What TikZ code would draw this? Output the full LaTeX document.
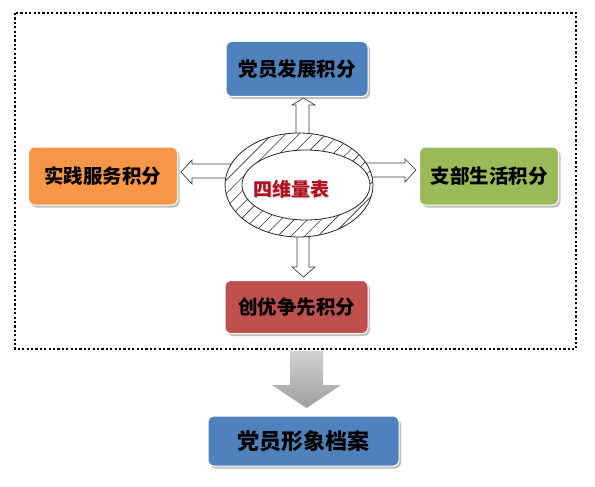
\documentclass[tikz,border=0pt]{standalone}
\usepackage{fontspec}
\newfontfamily\cjk{Noto Sans CJK SC}
\usetikzlibrary{shadows,patterns.meta,calc}
\definecolor{boxblue}{HTML}{4F81BD}
\definecolor{boxorange}{HTML}{F79646}
\definecolor{boxgreen}{HTML}{9BBB59}
\definecolor{boxred}{HTML}{C0504D}
\definecolor{centerred}{HTML}{B01020}
\tikzset{
  card/.style={rounded corners=6pt, draw=white, line width=1pt,
    drop shadow={shadow xshift=2pt, shadow yshift=-2.5pt, fill=black!35, opacity=0.7},
    font=\cjk\bfseries\fontsize{19.5}{22}\selectfont, text=black, inner sep=0pt},
  hollow/.style={draw=black!75, line width=0.7pt, fill=white, line join=miter},
  dotframe/.style={line width=2.2pt, dash pattern=on 2.2pt off 2.2pt}
}
\begin{document}
\begin{tikzpicture}[x=1pt,y=-1pt]
\useasboundingbox (0,0) rectangle (595,487);
\fill[white] (0,0) rectangle (595,487);
% frame
\draw[dotframe] (15,13) rectangle (576,349);
% boxes
\node[card, fill=boxblue, minimum width=142pt, minimum height=55pt] (top) at (297,69) {党员发展积分};
\node[card, fill=boxorange, minimum width=149pt, minimum height=58pt] (left) at (103,176) {实践服务积分};
\node[card, fill=boxgreen, minimum width=139pt, minimum height=58pt] (right) at (489,176) {支部生活积分};
\node[card, fill=boxred, minimum width=143pt, minimum height=53pt] (bottom) at (296.5,307) {创优争先积分};
\node[card, fill=boxblue, minimum width=191pt, minimum height=50pt, font=\cjk\bfseries\fontsize{22}{24}\selectfont] (final) at (303.5,441) {党员形象档案};
% hollow block arrows
\draw[hollow] (296,150) -- (296,105) -- (292,105) -- (303.5,98) -- (315,105) -- (309,105) -- (309,150) -- cycle;
\draw[hollow] (297,220) -- (297,267) -- (292,267) -- (303.5,277) -- (315,267) -- (309,267) -- (309,220) -- cycle;
\draw[hollow] (250,164) -- (192,164) -- (192,160) -- (181,172) -- (192,184) -- (192,178) -- (250,178) -- cycle;
\draw[hollow] (350,163) -- (405,163) -- (405,159) -- (416,170) -- (405,182) -- (405,177) -- (350,177) -- cycle;
% centre ellipse ring
\fill[white] (299,185) ellipse [x radius=74pt, y radius=52pt];
\fill[pattern={Lines[angle=45,distance=9.5pt,line width=0.6pt]}, pattern color=black!80, even odd rule]
  (299,185) ellipse [x radius=74pt, y radius=52pt]
  (306,185) ellipse [x radius=64pt, y radius=35pt];
\draw[black!85, line width=0.8pt] (299,185) ellipse [x radius=74pt, y radius=52pt];
\draw[black!85, line width=0.8pt] (306,185) ellipse [x radius=64pt, y radius=35pt];
\node[font=\cjk\bfseries\fontsize{19}{21}\selectfont, text=black!15] at (292,190) {四维量表};
\node[font=\cjk\bfseries\fontsize{19}{21}\selectfont, text=centerred] (center) at (291,189) {四维量表};
% big gray arrow
\shade[top color=black!18, bottom color=black!38] (290,351) -- (290,385) -- (272,385) -- (306.5,408) -- (341,385) -- (323,385) -- (323,351) -- cycle;
\end{tikzpicture}
\end{document}
